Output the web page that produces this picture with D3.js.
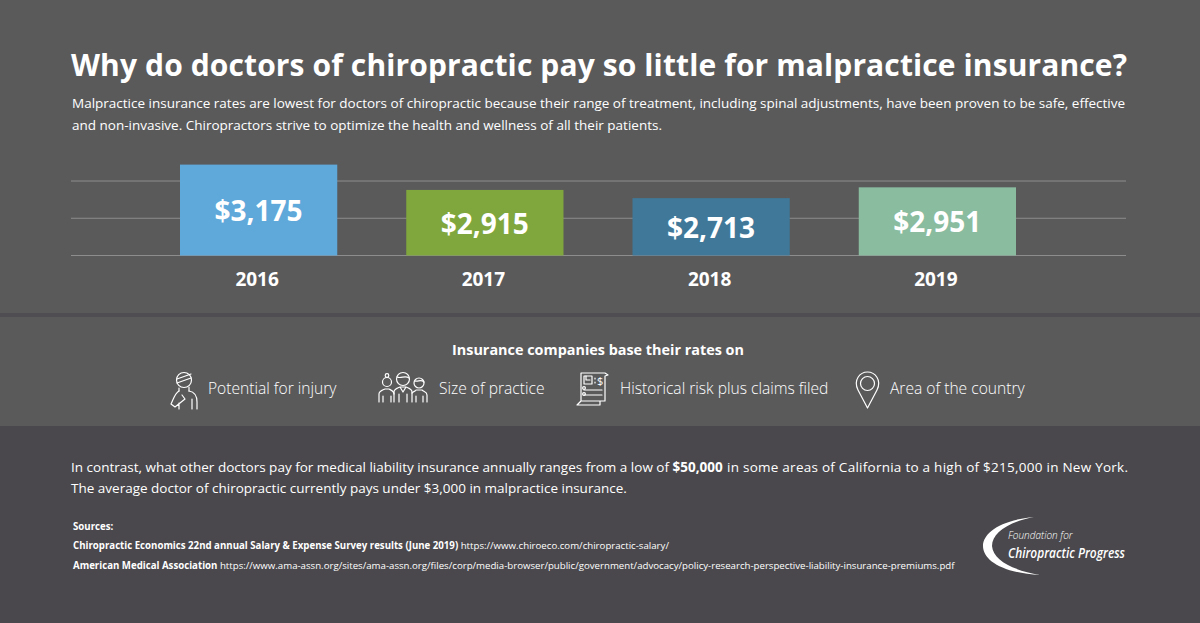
<!DOCTYPE html>
<html>
<head>
<meta charset="utf-8">
<script src="https://cdn.jsdelivr.net/npm/d3@7"></script>
<style>
html, body { margin: 0; padding: 0; background: #4a484c; }
svg { display: block; }
text { font-family: "Open Sans", sans-serif; fill: #fff; }
</style>
</head>
<body>
<svg id="chart" width="1200" height="623"></svg>
<script>
var years = ["2016", "2017", "2018", "2019"];
var rateLabels = ["$3,175", "$2,915", "$2,713", "$2,951"];
// bar heights as drawn in the picture, counted in gridline steps (not proportional to the dollars)
var barSteps = [2.44, 1.76, 1.54, 1.83];
var gridSteps = [0, 1, 2];
var barColors = ["#5fa8da", "#80a73d", "#3f7899", "#8abca0"];

var titleText = "Why do doctors of chiropractic pay so little for malpractice insurance?";
var introLines = [
    "Malpractice insurance rates are lowest for doctors of chiropractic because their range of treatment, including spinal adjustments, have been proven to be safe, effective",
    "and non-invasive. Chiropractors strive to optimize the health and wellness of all their patients."
];
var factorsHeading = "Insurance companies base their rates on";
var factors = ["Potential for injury", "Size of practice", "Historical risk plus claims filed", "Area of the country"];

var svg = d3.select("#chart");

// background bands
svg.append("rect").attr("width", 1200).attr("height", 426).attr("fill", "#5a5a5b");
svg.append("rect").attr("y", 313).attr("width", 1200).attr("height", 4).attr("fill", "#4f4d51");
svg.append("rect").attr("y", 426).attr("width", 1200).attr("height", 197).attr("fill", "#4a484c");

svg.append("text").attr("x", 71).attr("y", 76)
    .attr("font-size", 30).attr("font-weight", 700)
    .attr("textLength", 1056).attr("lengthAdjust", "spacing")
    .text(titleText);

svg.selectAll(".intro").data(introLines).enter().append("text")
    .attr("class", "intro")
    .attr("x", 72)
    .attr("y", function (d, i) { return 108 + i * 22; })
    .attr("font-size", 13.5)
    .text(function (d) { return d; });

// chart
var x = d3.scaleBand().domain(years).range([180, 1016]).paddingInner(0.305);
var y = d3.scaleLinear().domain([0, 2]).range([255.5, 181]);

svg.append("g").selectAll("line").data(gridSteps).enter().append("line")
    .attr("x1", 71).attr("x2", 1126)
    .attr("y1", function (d) { return y(d); })
    .attr("y2", function (d) { return y(d); })
    .attr("stroke", "#8d8d8e").attr("stroke-width", 1);

svg.append("g").selectAll("rect").data(years).enter().append("rect")
    .attr("x", function (d) { return x(d); })
    .attr("width", x.bandwidth())
    .attr("y", function (d, i) { return y(barSteps[i]); })
    .attr("height", function (d, i) { return y(0) - y(barSteps[i]); })
    .attr("fill", function (d, i) { return barColors[i]; });

svg.append("g").selectAll("text").data(rateLabels).enter().append("text")
    .attr("x", function (d, i) { return x(years[i]) + x.bandwidth() / 2; })
    .attr("y", function (d, i) { return (y(barSteps[i]) + y(0)) / 2 + 11; })
    .attr("text-anchor", "middle")
    .attr("font-size", 28).attr("font-weight", 700)
    .text(function (d) { return d; });

svg.append("g").selectAll("text").data(years).enter().append("text")
    .attr("x", function (d) { return x(d) + x.bandwidth() / 2 - 1.5; })
    .attr("y", 286)
    .attr("text-anchor", "middle")
    .attr("font-size", 19).attr("font-weight", 700)
    .text(function (d) { return d; });

// rating factors
svg.append("text").attr("x", 598).attr("y", 355).attr("text-anchor", "middle")
    .attr("font-size", 14.4).attr("font-weight", 700).text(factorsHeading);

var factorX = [208, 439, 620, 890];
svg.append("g").selectAll("text").data(factors).enter().append("text")
    .attr("x", function (d, i) { return factorX[i]; })
    .attr("y", 394)
    .attr("font-size", 15.6).attr("font-weight", 300)
    .text(function (d) { return d; });

var icons = svg.append("g").attr("fill", "none").attr("stroke", "#fff")
    .attr("stroke-width", 1.2).attr("stroke-linecap", "round").attr("stroke-linejoin", "round");

// injured person
var injury = icons.append("g").attr("transform", "translate(170,372)");
injury.append("circle").attr("cx", 14).attr("cy", 8).attr("r", 7.5);
injury.append("path").attr("d", "M7 7 L21 2 M7 11 L21 6 M9 16 L9 19 M19 15 L19 19");
injury.append("path").attr("d", "M9 19 C5 21 3 28 1 32 L5 35 L15 27 L12 23 M19 19 C25 20 27 24 27 30 L27 37 M22 27 L22 37 M9 31 L9 37");

// three people
var team = icons.append("g").attr("transform", "translate(378,372)");
team.append("circle").attr("cx", 9).attr("cy", 10).attr("r", 4.5);
team.append("circle").attr("cx", 9).attr("cy", 3.5).attr("r", 1.8);
team.append("circle").attr("cx", 25).attr("cy", 7).attr("r", 6.5);
team.append("path").attr("d", "M19 5 C23 7 27 3 31 6");
team.append("circle").attr("cx", 41).attr("cy", 11).attr("r", 5);
team.append("path").attr("d", "M37 9 C40 10 43 7 46 10");
team.append("path").attr("d", "M1 30 L1 22 C1 19 5 18 7 17 L11 17 C13 18 16 19 16 22 M5 24 L5 30 M13 24 L13 30");
team.append("path").attr("d", "M16 30 L16 20 C16 17 20 16 22 15 L28 15 C30 16 34 17 34 20 L34 30 M21 22 L21 30 M29 22 L29 30 M22 15 L25 20 L28 15");
team.append("path").attr("d", "M34 21 C36 19 38 19 38 18 L44 18 C46 20 49 20 49 23 L49 30 M38 24 L38 30 M45 24 L45 30");

// document with a dollar sign
var doc = icons.append("g").attr("transform", "translate(577,372)");
doc.append("path").attr("d", "M4 1 L28 1 L31 3 L28 4 L28 29 L23 29 L23 33 L0 33 L4 29 Z M4 29 L23 29");
doc.append("rect").attr("x", 7).attr("y", 4).attr("width", 8).attr("height", 8);
doc.append("path").attr("d", "M9 4 L9 8 L13 8 M7 18 L25 18 M7 23 L25 23 M18 6 L18 7 M18 10 L18 11");
doc.append("circle").attr("cx", 7).attr("cy", 16).attr("r", 1.4);
doc.append("circle").attr("cx", 7).attr("cy", 22).attr("r", 1.4);
doc.append("text").attr("x", 20).attr("y", 13).attr("font-size", 11).attr("stroke", "none").text("$");

// map pin
var pin = icons.append("g").attr("transform", "translate(855,371)");
pin.append("path").attr("d", "M12.5 37 L3 19 C-2 9 5 1 12.5 1 C20 1 27 9 22 19 Z");
pin.append("circle").attr("cx", 12.5).attr("cy", 12.5).attr("r", 7);

// lower band
var contrast = svg.append("text").attr("x", 71).attr("y", 472).attr("font-size", 13.5);
contrast.append("tspan").text("In contrast, what other doctors pay for medical liability insurance annually ranges from a low of ");
contrast.append("tspan").attr("font-weight", 700).text("$50,000");
contrast.append("tspan").attr("x", 727).attr("textLength", 401).text("in some areas of California to a high of $215,000 in New York.");
svg.append("text").attr("x", 71).attr("y", 493).attr("font-size", 13.5)
    .text("The average doctor of chiropractic currently pays under $3,000 in malpractice insurance.");

svg.append("text").attr("x", 73).attr("y", 530).attr("font-size", 9.67).attr("font-weight", 700).text("Sources:");
var source1 = svg.append("text").attr("x", 73).attr("y", 549).attr("font-size", 9.67);
source1.append("tspan").attr("font-weight", 700).text("Chiropractic Economics 22nd annual Salary & Expense Survey results (June 2019) ");
source1.append("tspan").text("https://www.chiroeco.com/chiropractic-salary/");
var source2 = svg.append("text").attr("x", 73).attr("y", 569).attr("font-size", 9.67);
source2.append("tspan").attr("font-weight", 700).text("American Medical Association ");
source2.append("tspan").text("https://www.ama-assn.org/sites/ama-assn.org/files/corp/media-browser/public/government/advocacy/policy-research-perspective-liability-insurance-premiums.pdf");

// logo
var logo = svg.append("g");
logo.append("path").attr("fill", "#fff")
    .attr("d", "M1034 517 C1000 520 983 533 983 546 C983 560 1002 573 1040 575 C1012 570 993 560 992 546 C992 533 1008 522 1034 517 Z");
logo.append("text").attr("x", 1008).attr("y", 539).attr("font-size", 10).attr("font-style", "italic").attr("font-weight", 300).text("Foundation for");
logo.append("text").attr("x", 1008).attr("y", 558).attr("font-size", 14.5).attr("font-style", "italic").attr("font-weight", 600)
    .attr("textLength", 117).attr("lengthAdjust", "spacingAndGlyphs").text("Chiropractic Progress");
</script>
</body>
</html>
